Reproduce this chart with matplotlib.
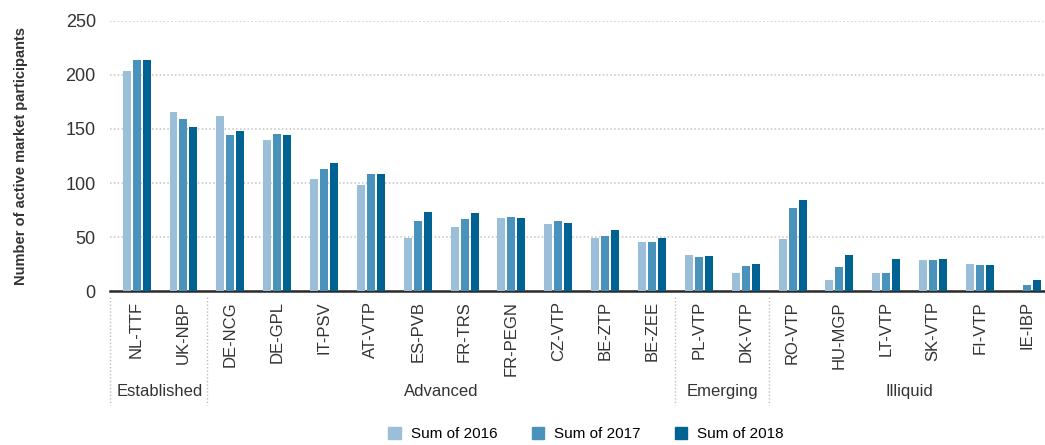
#!/usr/bin/env python3
# -*- coding: utf-8 -*-

import numpy as np
import matplotlib
matplotlib.use("Agg")
import matplotlib.pyplot as plt
import matplotlib.transforms as mtransforms
from matplotlib.patches import Patch

hubs = ["NL-TTF", "UK-NBP", "DE-NCG", "DE-GPL", "IT-PSV", "AT-VTP", "ES-PVB",
        "FR-TRS", "FR-PEGN", "CZ-VTP", "BE-ZTP", "BE-ZEE", "PL-VTP", "DK-VTP",
        "RO-VTP", "HU-MGP", "LT-VTP", "SK-VTP", "FI-VTP", "IE-IBP"]
sum_2016 = [204, 166, 162, 140, 104, 98, 49, 59, 68, 62, 49, 46, 34, 17,
            48, 10, 17, 29, 25, 0]
sum_2017 = [214, 159, 144, 145, 113, 108, 65, 67, 69, 65, 51, 46, 32, 23,
            77, 22, 17, 29, 24, 6]
sum_2018 = [214, 152, 148, 144, 119, 108, 73, 72, 68, 63, 57, 49, 33, 25,
            84, 34, 30, 30, 24, 10]
series_names = ["Sum of 2016", "Sum of 2017", "Sum of 2018"]
groups = ["Established", "Advanced", "Emerging", "Illiquid"]
group_sizes = [2, 10, 2, 6]
y_ticks = [0, 50, 100, 150, 200, 250]

colors = ["#9bbfd8", "#4892bb", "#006293"]
text_col = "#333333"

plt.rcParams['font.family'] = ['Liberation Sans Narrow', 'Liberation Sans', 'DejaVu Sans']

fig = plt.figure(figsize=(10.45, 4.45), dpi=100)
ax = fig.add_axes([0.105, 0.3454, 0.9, 0.608])

x = np.arange(len(hubs))
width = 0.17
step = 0.213
for i, vals in enumerate([sum_2016, sum_2017, sum_2018]):
    ax.bar(x + (i - 1) * step, vals, width, color=colors[i], zorder=3)

ax.set_xlim(-0.574, 19.5)
ax.set_ylim(0, 250)
ax.set_yticks(y_ticks)
ax.yaxis.grid(True, linestyle=(0, (1, 1.5)), color="#c4c4c4", linewidth=1.1, zorder=0)
ax.tick_params(axis="y", length=0, labelsize=13, colors=text_col, pad=10)
ax.set_xticks(x)
ax.set_xticklabels(hubs, rotation=90, fontsize=12, color=text_col)
ax.tick_params(axis="x", length=0, pad=7)

for s in ["top", "right", "left"]:
    ax.spines[s].set_visible(False)
ax.spines["bottom"].set_color("#2b2b2b")
ax.spines["bottom"].set_linewidth(1.8)

ax.set_ylabel("Number of active market participants", fontsize=10.5,
              fontweight="bold", color=text_col, labelpad=27)

# group separators and labels under the hub names
trans = mtransforms.blended_transform_factory(ax.transData, ax.transAxes)
edges = np.concatenate([[0], np.cumsum(group_sizes)]) - 0.5
edges[0] = -0.574
for e in edges[:-1]:
    ax.plot([e, e], [-0.021, -0.42], transform=trans, clip_on=False,
            color="#bdbdbd", linestyle=(0, (1, 1.5)), linewidth=1)
start = 0
for g, n in zip(groups, group_sizes):
    ax.text(start + (n - 1) / 2, -0.372, g, transform=trans, ha="center",
            va="center", fontsize=12, color=text_col)
    start += n

handles = [Patch(color=c) for c in colors]
fig.legend(handles, series_names, loc="center", bbox_to_anchor=(0.561, 0.024),
           ncol=3, frameon=False, fontsize=11, handlelength=0.8,
           handleheight=0.8, handletextpad=0.7, columnspacing=2.2)

fig.savefig("out.png", dpi=100)
